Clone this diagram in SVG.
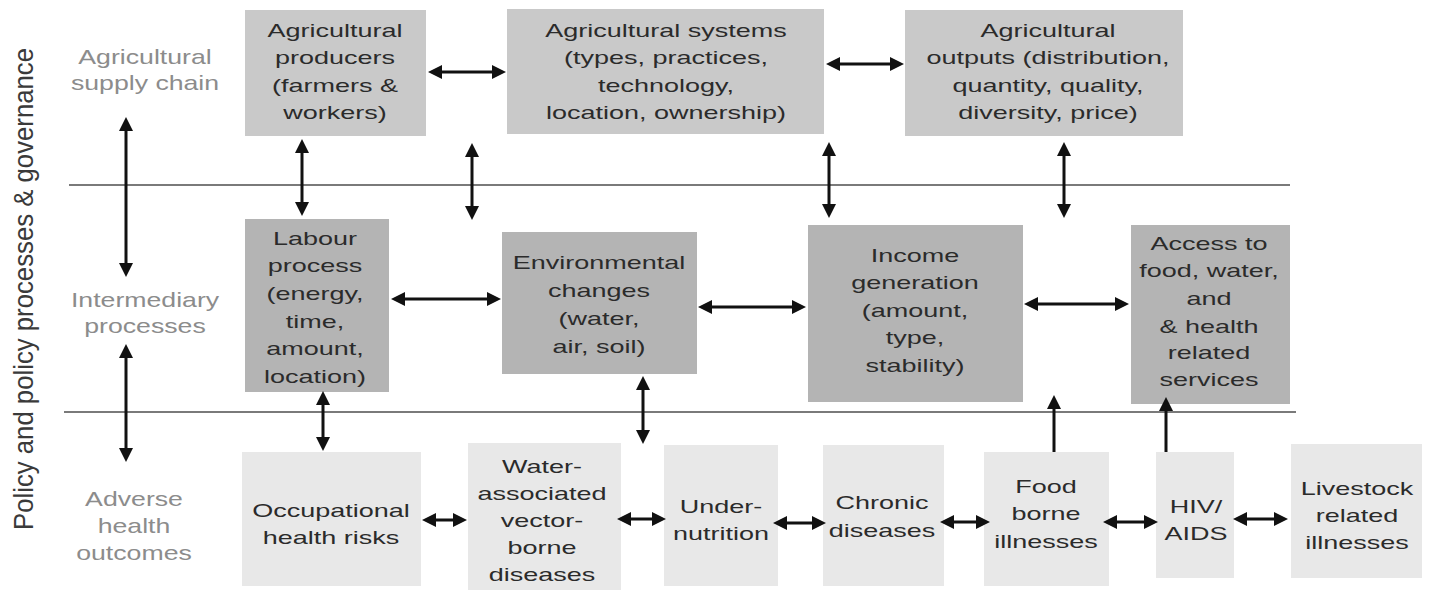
<svg xmlns="http://www.w3.org/2000/svg" width="1429" height="590" viewBox="0 0 1429 590">
<style>
.t{font-family:"Liberation Sans",Arial,sans-serif;font-size:18px;fill:#2b2b2b;text-anchor:middle}
.lb{font-family:"Liberation Sans",Arial,sans-serif;font-size:21px;fill:#8c8c8c;text-anchor:middle}
.side{font-family:"Liberation Sans",Arial,sans-serif;font-size:25px;fill:#3a3a3a;text-anchor:middle}
.top{fill:#c9c9c9}
.mid{fill:#b4b4b4}
.bot{fill:#e8e8e8}
.rule{stroke:#7a7a7a;stroke-width:2;fill:none}
.c{stroke:#111;stroke-width:3;fill:none}
.d{marker-start:url(#ah);marker-end:url(#ah)}
.s{marker-end:url(#ah)}
</style>
<defs>
<marker id="ah" markerUnits="userSpaceOnUse" markerWidth="14" markerHeight="14" viewBox="0 0 14 14" refX="10" refY="7" orient="auto-start-reverse">
<path d="M0,0 L14,7 L0,14 z" fill="#111"/>
</marker>
</defs>
<rect width="1429" height="590" fill="#fff"/>

<g id="rules">
<line class="rule" x1="69" y1="185" x2="1290" y2="185"/>
<line class="rule" x1="64" y1="412" x2="1296" y2="412"/>
</g>

<g id="side-label">
<text class="side" transform="translate(33,289) scale(1.12,1) rotate(-90)" x="0" y="0" textLength="482" lengthAdjust="spacingAndGlyphs">Policy and policy processes &amp; governance</text>
</g>

<g id="row-labels">
<text class="lb" transform="matrix(1.27 0 0 1 145 0)"><tspan x="0" y="64">Agricultural</tspan><tspan x="0" y="90">supply chain</tspan></text>
<text class="lb" transform="matrix(1.27 0 0 1 145 0)"><tspan x="0" y="307">Intermediary</tspan><tspan x="0" y="333">processes</tspan></text>
<text class="lb" transform="matrix(1.27 0 0 1 134 0)"><tspan x="0" y="506">Adverse</tspan><tspan x="0" y="533">health</tspan><tspan x="0" y="560">outcomes</tspan></text>
</g>

<g id="producers">
<rect class="top" x="245" y="10" width="181" height="126"/>
<text class="t" transform="matrix(1.5 0 0 1 335 0)"><tspan x="0" y="37">Agricultural</tspan><tspan x="0" y="64">producers</tspan><tspan x="0" y="92">(farmers &amp;</tspan><tspan x="0" y="119">workers)</tspan></text>
</g>
<g id="systems">
<rect class="top" x="507" y="9" width="317" height="125"/>
<text class="t" transform="matrix(1.5 0 0 1 666 0)"><tspan x="0" y="37">Agricultural systems</tspan><tspan x="0" y="64">(types, practices,</tspan><tspan x="0" y="92">technology,</tspan><tspan x="0" y="119">location, ownership)</tspan></text>
</g>
<g id="outputs">
<rect class="top" x="905" y="10" width="278" height="126"/>
<text class="t" transform="matrix(1.5 0 0 1 1048 0)"><tspan x="0" y="37">Agricultural</tspan><tspan x="0" y="64">outputs (distribution,</tspan><tspan x="0" y="92">quantity, quality,</tspan><tspan x="0" y="119">diversity, price)</tspan></text>
</g>

<g id="labour">
<rect class="mid" x="245" y="219" width="144" height="173"/>
<text class="t" transform="matrix(1.5 0 0 1 315 0)"><tspan x="0" y="245">Labour</tspan><tspan x="0" y="272">process</tspan><tspan x="0" y="300">(energy,</tspan><tspan x="0" y="328">time,</tspan><tspan x="0" y="355">amount,</tspan><tspan x="0" y="383">location)</tspan></text>
</g>
<g id="environment">
<rect class="mid" x="502" y="232" width="195" height="142"/>
<text class="t" transform="matrix(1.5 0 0 1 599 0)"><tspan x="0" y="269">Environmental</tspan><tspan x="0" y="297">changes</tspan><tspan x="0" y="325">(water,</tspan><tspan x="0" y="353">air, soil)</tspan></text>
</g>
<g id="income">
<rect class="mid" x="808" y="225" width="215" height="177"/>
<text class="t" transform="matrix(1.5 0 0 1 915 0)"><tspan x="0" y="262">Income</tspan><tspan x="0" y="289">generation</tspan><tspan x="0" y="317">(amount,</tspan><tspan x="0" y="344">type,</tspan><tspan x="0" y="372">stability)</tspan></text>
</g>
<g id="access">
<rect class="mid" x="1131" y="225" width="159" height="179"/>
<text class="t" transform="matrix(1.5 0 0 1 1209 0)"><tspan x="0" y="250">Access to</tspan><tspan x="0" y="277">food, water,</tspan><tspan x="0" y="305">and</tspan><tspan x="0" y="333">&amp; health</tspan><tspan x="0" y="359">related</tspan><tspan x="0" y="386">services</tspan></text>
</g>

<g id="occupational">
<rect class="bot" x="242" y="452" width="179" height="134"/>
<text class="t" transform="matrix(1.5 0 0 1 331 0)"><tspan x="0" y="517">Occupational</tspan><tspan x="0" y="544">health risks</tspan></text>
</g>
<g id="water">
<rect class="bot" x="468" y="443" width="153" height="147"/>
<text class="t" transform="matrix(1.5 0 0 1 542 0)"><tspan x="0" y="473">Water-</tspan><tspan x="0" y="500">associated</tspan><tspan x="0" y="527">vector-</tspan><tspan x="0" y="554">borne</tspan><tspan x="0" y="581">diseases</tspan></text>
</g>
<g id="undernutrition">
<rect class="bot" x="664" y="445" width="114" height="141"/>
<text class="t" transform="matrix(1.5 0 0 1 721 0)"><tspan x="0" y="513">Under-</tspan><tspan x="0" y="540">nutrition</tspan></text>
</g>
<g id="chronic">
<rect class="bot" x="823" y="445" width="121" height="141"/>
<text class="t" transform="matrix(1.5 0 0 1 882 0)"><tspan x="0" y="509">Chronic</tspan><tspan x="0" y="537">diseases</tspan></text>
</g>
<g id="foodborne">
<rect class="bot" x="984" y="452" width="125" height="134"/>
<text class="t" transform="matrix(1.5 0 0 1 1046 0)"><tspan x="0" y="493">Food</tspan><tspan x="0" y="520">borne</tspan><tspan x="0" y="548">illnesses</tspan></text>
</g>
<g id="hiv">
<rect class="bot" x="1156" y="452" width="78" height="126"/>
<text class="t" transform="matrix(1.5 0 0 1 1196 0)"><tspan x="0" y="513">HIV/</tspan><tspan x="0" y="540">AIDS</tspan></text>
</g>
<g id="livestock">
<rect class="bot" x="1291" y="444" width="131" height="134"/>
<text class="t" transform="matrix(1.5 0 0 1 1357 0)"><tspan x="0" y="495">Livestock</tspan><tspan x="0" y="522">related</tspan><tspan x="0" y="549">illnesses</tspan></text>
</g>

<g id="connectors">
<line class="c d" x1="432" y1="72" x2="502" y2="72"/>
<line class="c d" x1="830" y1="64" x2="900" y2="64"/>
<line class="c d" x1="126" y1="121" x2="126" y2="273"/>
<line class="c d" x1="302" y1="143" x2="302" y2="212"/>
<line class="c d" x1="472" y1="147" x2="472" y2="216"/>
<line class="c d" x1="829" y1="146" x2="829" y2="214"/>
<line class="c d" x1="1064" y1="146" x2="1064" y2="214"/>
<line class="c d" x1="395" y1="299" x2="497" y2="299"/>
<line class="c d" x1="702" y1="307" x2="802" y2="307"/>
<line class="c d" x1="1028" y1="304" x2="1125" y2="304"/>
<line class="c d" x1="126" y1="348" x2="126" y2="458"/>
<line class="c d" x1="323" y1="395" x2="323" y2="447"/>
<line class="c d" x1="643" y1="380" x2="643" y2="440"/>
<line class="c s" x1="1054" y1="452" x2="1054" y2="399"/>
<line class="c s" x1="1166" y1="452" x2="1166" y2="401"/>
<line class="c d" x1="426" y1="520" x2="463" y2="520"/>
<line class="c d" x1="621" y1="519" x2="662" y2="519"/>
<line class="c d" x1="777" y1="523" x2="822" y2="523"/>
<line class="c d" x1="944" y1="522" x2="986" y2="522"/>
<line class="c d" x1="1107" y1="522" x2="1154" y2="522"/>
<line class="c d" x1="1237" y1="519" x2="1284" y2="519"/>
</g>
</svg>
